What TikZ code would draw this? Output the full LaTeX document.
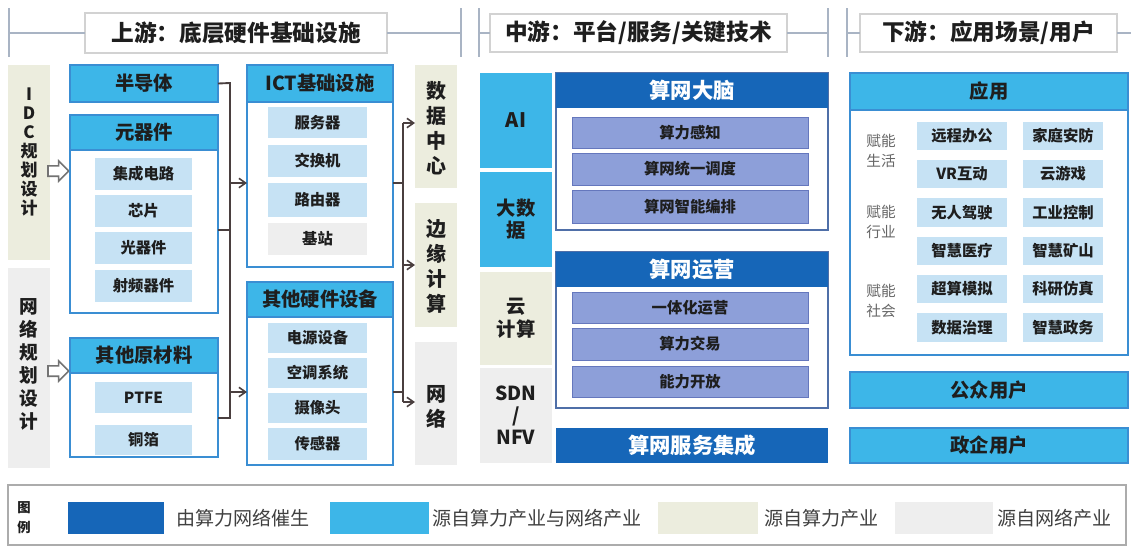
\documentclass[tikz,border=0pt]{standalone}
\usepackage{fontspec}
\setmainfont{Noto Sans CJK SC}
\usetikzlibrary{arrows.meta,shapes.arrows}
\definecolor{dblue}{HTML}{1666B8}
\definecolor{lblue}{HTML}{3DB6E8}
\definecolor{iblue}{HTML}{C6E2F4}
\definecolor{beige}{HTML}{ECEDDE}
\definecolor{lgray}{HTML}{EEEEEE}
\definecolor{peri}{HTML}{8D9FD9}
\definecolor{perib}{HTML}{6577BD}
\definecolor{cborder}{HTML}{3A8ED3}
\definecolor{bborder}{HTML}{4F6FA8}
\definecolor{hline}{HTML}{A9B4C4}
\definecolor{busc}{HTML}{4A3F3F}
\definecolor{txt}{HTML}{1E1E1E}
\newcommand{\mybox}[7]{\node[#1, minimum width={(#5-#3)*0.75pt}, minimum height={(#6-#4)*0.75pt}] (#2) at ({(#3+#5)/2},{(#4+#6)/2}) {#7};}
\tikzset{
  base/.style={inner sep=0pt, outer sep=0pt, align=center, text=txt},
  item/.style={base, fill=iblue, font=\bfseries\fontsize{11.5}{14}\selectfont},
  itemg/.style={item, fill=lgray},
  cont/.style={base, draw=cborder, line width=1.1pt, fill=white},
  bcont/.style={base, draw=bborder, line width=1.1pt, fill=white},
  lhead/.style={base, fill=lblue, draw=cborder, line width=1.1pt, font=\bfseries\fontsize{14.5}{17}\selectfont},
  dhead/.style={base, fill=dblue, text=white, font=\bfseries\fontsize{16}{19}\selectfont},
  pitem/.style={base, fill=peri, draw=perib, line width=0.6pt, font=\bfseries\fontsize{11.5}{14}\selectfont},
  vbeige/.style={base, fill=beige},
  vgray/.style={base, fill=lgray},
  vtext/.style={base, font=\bfseries\fontsize{15}{18.75}\selectfont},
  sechead/.style={base, draw=gray!35, line width=0.8pt, fill=white, font=\bfseries\fontsize{17}{20}\selectfont},
  hl/.style={draw=hline, line width=0.9pt},
  bus/.style={draw=busc, line width=1.4pt},
  busarrow/.style={bus, -{Straight Barb[length=5pt,width=7pt,line width=1.2pt]}},
  hollow/.style={single arrow, draw=black!55, fill=white, line width=1.2pt, inner xsep=0pt, inner ysep=3.3pt, outer sep=0pt, minimum height=15.5pt, single arrow head extend=3.6pt, single arrow head indent=0pt, anchor=west},
  rlab/.style={base, text=black!60, font=\fontsize{11}{15}\selectfont},
  legtext/.style={base, anchor=west, text=black!75, font=\fontsize{14.3}{16}\selectfont},
}
\begin{document}
\begin{tikzpicture}[x=0.75pt,y=-0.75pt]
\useasboundingbox (0,0) rectangle (1131,547);
% ---------- section headers ----------
\mybox{sechead}{h1}{85}{13}{387}{53}{上游：底层硬件基础设施}
\mybox{sechead}{h2}{490}{14}{787}{52}{中游：平台/服务/关键技术}
\mybox{sechead}{h3}{860}{14}{1117}{52}{下游：应用场景/用户}
\coordinate (s1a) at (9,8); \coordinate (s1b) at (9,57);
\coordinate (s1c) at (461,8); \coordinate (s1d) at (461,57);
\coordinate (s2a) at (479,8); \coordinate (s2b) at (479,57);
\coordinate (s2c) at (828,8); \coordinate (s2d) at (828,57);
\coordinate (s3a) at (847,8); \coordinate (s3b) at (847,57);
\coordinate (s3e) at (1131,33);
\draw[hl] (s1a) -- (s1b); \draw[hl] (s1c) -- (s1d);
\draw[hl] (s2a) -- (s2b); \draw[hl] (s2c) -- (s2d);
\draw[hl] (s3a) -- (s3b);
\draw[hl] (h1.west -| s1a) -- (h1.west); \draw[hl] (h1.east) -- (h1.east -| s1c);
\draw[hl] (h2.west -| s2a) -- (h2.west); \draw[hl] (h2.east) -- (h2.east -| s2c);
\draw[hl] (h3.west -| s3a) -- (h3.west); \draw[hl] (h3.east) -- (h3.east -| s3e);
% ---------- upstream: left ----------
\mybox{vbeige}{idc}{8}{65}{50}{260}{}
\node[base, font=\bfseries\fontsize{12.75}{14.25}\selectfont] (idct) at (29,152) {I\\D\\C\\规\\划\\设\\计};
\mybox{vgray}{npd}{8}{268}{50}{468}{}
\node[base, font=\bfseries\fontsize{14}{17.25}\selectfont] (npdt) at (29,364) {网\\络\\规\\划\\设\\计};
\node[hollow] (ha1) at (48,171) {};
\node[hollow] (ha2) at (48,371) {};
\mybox{lhead}{semi}{70}{65}{218}{102}{半导体}
\mybox{cont}{comp}{70}{115}{218}{313}{}
\mybox{lhead}{comph}{70}{115}{218}{150}{元器件}
\mybox{item}{ic}{95}{158}{192}{190}{集成电路}
\mybox{item}{chip}{95}{195}{192}{227}{芯片}
\mybox{item}{opt}{95}{232}{192}{264}{光器件}
\mybox{item}{rf}{95}{270}{192}{302}{射频器件}
\mybox{cont}{raw}{70}{338}{218}{457}{}
\mybox{lhead}{rawh}{70}{338}{218}{373}{其他原材料}
\mybox{item}{ptfe}{95}{382}{192}{413}{PTFE}
\mybox{item}{cu}{95}{425}{192}{455}{铜箔}
% ---------- upstream: middle ----------
\mybox{cont}{ict}{247}{65}{393}{267}{}
\mybox{lhead}{icth}{247}{65}{393}{102}{ICT基础设施}
\mybox{item}{srv}{268}{107}{367}{138}{服务器}
\mybox{item}{sw}{268}{145}{367}{177}{交换机}
\mybox{item}{rt}{268}{183}{367}{217}{路由器}
\mybox{itemg}{bs}{268}{223}{367}{255}{基站}
\mybox{cont}{hw}{247}{282}{393}{465}{}
\mybox{lhead}{hwh}{247}{282}{393}{317}{其他硬件设备}
\mybox{item}{pw}{268}{323}{367}{353}{电源设备}
\mybox{item}{ac}{268}{358}{367}{388}{空调系统}
\mybox{item}{cam}{268}{393}{367}{423}{摄像头}
\mybox{item}{sen}{268}{428}{367}{460}{传感器}
\mybox{vbeige}{dc}{415}{65}{457}{188}{}
\node[vtext] (dct) at (436,128) {数\\据\\中\\心};
\mybox{vbeige}{edge}{415}{203}{457}{327}{}
\node[vtext] (edget) at (436,266) {边\\缘\\计\\算};
\mybox{vgray}{netw}{415}{342}{457}{465}{}
\node[vtext] (netwt) at (436,407) {网\\络};
% ---------- buses ----------
\coordinate (bL1) at (230,83); \coordinate (bL2) at (230,418);
\coordinate (bLc) at (230,230); \coordinate (bLa) at (230,183); \coordinate (bLb) at (230,392);
\draw[bus] (semi.east) -- (bL1) -- (bL2) -- (bL2 -| raw.east);
\draw[bus] (bLc -| comp.east) -- (bLc);
\draw[busarrow] (bLa) -- (bLa -| ict.west);
\draw[busarrow] (bLb) -- (bLb -| hw.west);
\coordinate (bR1) at (403,123); \coordinate (bR2) at (403,402); \coordinate (bRm) at (403,265);
\coordinate (r1) at (403,183); \coordinate (r2) at (403,392);
\draw[bus] (r1 -| ict.east) -- (r1);
\draw[bus] (r2 -| hw.east) -- (r2);
\draw[bus] (bR1) -- (bR2);
\draw[busarrow] (bR1) -- (bR1 -| dc.west);
\draw[busarrow] (bRm) -- (bRm -| edge.west);
\draw[busarrow] (bR2) -- (bR2 -| netw.west);
% ---------- midstream ----------
\mybox{base, fill=lblue, font=\bfseries\fontsize{15}{16.5}\selectfont}{ai}{480}{73}{552}{168}{AI}
\mybox{base, fill=lblue, font=\bfseries\fontsize{14.5}{16.5}\selectfont}{bd}{480}{172}{552}{267}{大数\\据}
\mybox{vbeige, font=\bfseries\fontsize{14.5}{17}\selectfont}{cloud}{480}{272}{552}{365}{云\\计算}
\mybox{vgray, font=\bfseries\fontsize{14.5}{16.5}\selectfont}{sdn}{480}{368}{552}{463}{SDN\\/\\NFV}
\mybox{bcont}{brain}{556}{73}{828}{230}{}
\mybox{dhead}{brainh}{556}{73}{828}{108}{算网大脑}
\mybox{pitem}{p1}{572}{117}{808}{148}{算力感知}
\mybox{pitem}{p2}{572}{153}{808}{185}{算网统一调度}
\mybox{pitem}{p3}{572}{190}{808}{223}{算网智能编排}
\mybox{bcont}{ops}{556}{252}{828}{408}{}
\mybox{dhead}{opsh}{556}{252}{828}{287}{算网运营}
\mybox{pitem}{p4}{572}{292}{808}{323}{一体化运营}
\mybox{pitem}{p5}{572}{328}{808}{360}{算力交易}
\mybox{pitem}{p6}{572}{366}{808}{397}{能力开放}
\mybox{dhead}{integ}{556}{428}{828}{463}{算网服务集成}
% ---------- downstream ----------
\mybox{cont}{app}{850}{73}{1128}{355}{}
\mybox{lhead}{apph}{850}{73}{1128}{110}{应用}
\node[rlab] (l1) at (881,151) {赋能\\生活};
\node[rlab] (l2) at (881,222) {赋能\\行业};
\node[rlab] (l3) at (881,301) {赋能\\社会};
\mybox{item}{a1}{917}{122}{1007}{150}{远程办公}
\mybox{item}{a2}{1023}{122}{1103}{150}{家庭安防}
\mybox{item}{a3}{917}{160}{1007}{188}{VR互动}
\mybox{item}{a4}{1023}{160}{1103}{188}{云游戏}
\mybox{item}{a5}{917}{198}{1007}{227}{无人驾驶}
\mybox{item}{a6}{1023}{198}{1103}{227}{工业控制}
\mybox{item}{a7}{917}{237}{1007}{265}{智慧医疗}
\mybox{item}{a8}{1023}{237}{1103}{265}{智慧矿山}
\mybox{item}{a9}{917}{275}{1007}{303}{超算模拟}
\mybox{item}{a10}{1023}{275}{1103}{303}{科研仿真}
\mybox{item}{a11}{917}{313}{1007}{342}{数据治理}
\mybox{item}{a12}{1023}{313}{1103}{342}{智慧政务}
\mybox{lhead}{pub}{850}{372}{1128}{408}{公众用户}
\mybox{lhead}{gov}{850}{428}{1128}{463}{政企用户}
% ---------- legend ----------
\mybox{base, draw=gray!65, line width=1.1pt}{legend}{8}{485}{1126}{545}{}
\node[base, font=\bfseries\fontsize{10}{15}\selectfont] (legt) at (24,518) {图\\例};
\mybox{base, fill=dblue}{sw1}{68}{502}{164}{534}{}
\node[legtext] (lt1) at (176,518) {由算力网络催生};
\mybox{base, fill=lblue}{sw2}{330}{502}{429}{534}{}
\node[legtext] (lt2) at (432,518) {源自算力产业与网络产业};
\mybox{base, fill=beige}{sw3}{658}{502}{758}{534}{}
\node[legtext] (lt3) at (764,518) {源自算力产业};
\mybox{base, fill=lgray}{sw4}{895}{502}{993}{534}{}
\node[legtext] (lt4) at (997,518) {源自网络产业};
\end{tikzpicture}
\end{document}
